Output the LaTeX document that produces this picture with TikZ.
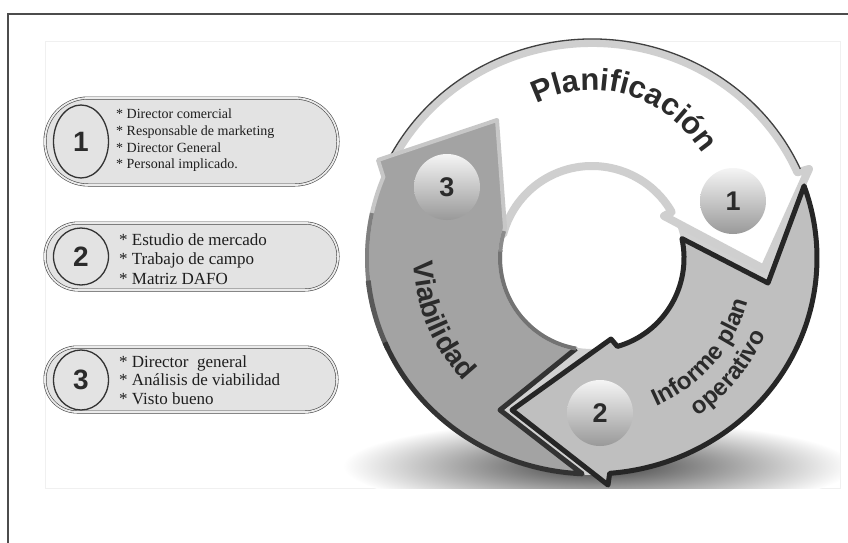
\documentclass[tikz,border=0pt]{standalone}
\usepackage{fontspec}
\setmainfont{Liberation Serif}
\newfontfamily\arialf{Liberation Sans}
\usetikzlibrary{shapes.geometric,decorations.text}
\definecolor{ink}{HTML}{2B2B2B}
\definecolor{textdark}{HTML}{1E1E1E}
\newcommand\numfnt{\arialf\bfseries\fontsize{28}{28}\selectfont}
\newcommand\ballfnt{\arialf\bfseries\fontsize{27}{27}\selectfont}
\newcommand\planfnt{\arialf\bfseries\fontsize{31}{31}\selectfont\color{ink}}
\newcommand\viafnt{\arialf\bfseries\fontsize{28}{28}\selectfont\color{ink}}
\newcommand\infofnt{\arialf\bfseries\fontsize{24}{24}\selectfont\color{ink}}
\tikzset{
  stadium/.style={draw=black!72, line width=0.6pt, double=black!8, double distance=1.8pt,
    fill=black!11, rectangle, inner sep=0pt},
  numcirc/.style={ellipse, draw=black!80, line width=1.3pt, inner sep=0pt,
    font=\numfnt, text=ink},
  itemlist/.style={anchor=west, align=left, inner sep=0pt, text=textdark},
  ball/.style={circle, minimum size=66pt, inner sep=0pt, top color=black!4,
    bottom color=black!40, font=\ballfnt, text=ink},
  ringtext/.style={decorate, decoration={text along path, text align=center,
    text format delimiters={|}{|}, text={#1}}}
}
\begin{document}
\begin{tikzpicture}[x=1pt,y=-1pt]
\useasboundingbox (0,0) rectangle (848,543);
\fill[white] (0,0) rectangle (848,543);
\draw[black!6, line width=0.8pt] (45,41) rectangle (840,488);
\draw[black!70, line width=1.4pt] (8,543) -- (8,14) -- (848,14);

% shadow under ring
\begin{scope}
  \clip (330,400) rectangle (840,488);
  \shade[inner color=black!75, outer color=white] (598,466) ellipse (255pt and 46pt);
\end{scope}

% ring
\begin{scope}[shift={(592,258)}]
  \fill[black!18, even odd rule] (0,0) ellipse (226pt and 217pt) (0,0) circle (91pt);
  % arrow 1 : Planificacion
  \path[fill=white, draw=black!19, line width=8pt, line join=round]
    (156:224pt and 215pt) arc[start angle=156, end angle=23.5, x radius=224pt, y radius=215pt]
    -- (217pt,89pt) -- (172pt,-11pt) -- (72pt,42pt) -- (30:92pt)
    arc[start angle=30, end angle=165, radius=92pt] -- cycle;
  \draw[black!75, line width=1.3pt] (156:228pt and 219pt)
    arc[start angle=156, end angle=24, x radius=228pt, y radius=219pt];
  % arrow 2 : Informe plan operativo
  \path[fill=black!25, draw=black!85, line width=5pt, line join=round]
    (19.5:225pt and 216pt) -- (176pt,-25pt) -- (12.2:92pt)
    arc[start angle=12.2, end angle=-74, radius=92pt]
    -- (19pt,-81pt) -- (-80pt,-152pt) -- (16pt,-227pt) -- (-85.5:225pt and 216pt)
    arc[start angle=-85.5, end angle=19.5, x radius=225pt, y radius=216pt] -- cycle;
  % arrow 3 : Viabilidad
  \path[fill=black!36, draw=black!22, line width=4pt, line join=round]
    (267.5:225pt and 216pt) -- (-92pt,-152pt) -- (260:92pt)
    arc[start angle=260, end angle=161, radius=92pt]
    -- (-95pt,138pt) -- (-214pt,98pt) -- (158:225pt and 216pt)
    arc[start angle=158, end angle=267.5, x radius=225pt, y radius=216pt] -- cycle;
  \draw[black!50, line width=4pt] (168:225pt and 216pt)
    arc[start angle=168, end angle=188, x radius=225pt, y radius=216pt];
  \draw[black!65, line width=5pt] (186:225pt and 216pt)
    arc[start angle=186, end angle=205, x radius=225pt, y radius=216pt];
  \draw[black!80, line width=5pt, line join=round] (203:225pt and 216pt)
    arc[start angle=203, end angle=267.5, x radius=225pt, y radius=216pt]
    -- (-92pt,-152pt) -- (260:92pt);
  \draw[black!55, line width=4pt] (260:92pt) arc[start angle=260, end angle=175, radius=92pt];
  \draw[black!45, line width=4pt] (176:92pt) arc[start angle=176, end angle=163, radius=92pt];

  % ring labels
  \path[ringtext={|\planfnt|Planificación}] (118:142pt and 168pt)
    arc[start angle=118, end angle=34, x radius=142pt, y radius=168pt];
  \path[ringtext={|\viafnt|Viabilidad}] (172:178pt)
    arc[start angle=172, end angle=233, radius=178pt];
  \path[ringtext={|\infofnt|Informe plan}] (-72:162pt)
    arc[start angle=-72, end angle=-10, radius=162pt];
  \path[ringtext={|\infofnt|operativo}] (-68:190pt)
    arc[start angle=-68, end angle=-12, radius=190pt];
\end{scope}

% balls
\node[ball] (n1) at (733,201) {1};
\node[ball] (n2) at (600,413) {2};
\node[ball] (n3) at (447,187) {3};

% left boxes
\node[stadium, minimum width=293pt, minimum height=87pt, rounded corners=43pt] (box1) at (191.5,141.5) {};
\node[numcirc, minimum width=55pt, minimum height=73pt] (c1) at (81,141.5) {1};
\node[itemlist, font=\fontsize{14}{16.7}\selectfont] (t1) at (116,140.5)
  {* Director comercial\\* Responsable de marketing\\* Director General\\* Personal implicado.};

\node[stadium, minimum width=293pt, minimum height=67pt, rounded corners=33pt] (box2) at (191.5,256.5) {};
\node[numcirc, minimum width=55pt, minimum height=57pt] (c2) at (81,256.5) {2};
\node[itemlist, font=\fontsize{17}{19.3}\selectfont] (t2) at (119,259)
  {* Estudio de mercado\\* Trabajo de campo\\* Matriz DAFO};

\node[stadium, minimum width=292pt, minimum height=65pt, rounded corners=32pt] (box3) at (191,379.5) {};
\node[numcirc, minimum width=55pt, minimum height=60pt] (c3) at (81,380) {3};
\node[itemlist, font=\fontsize{17}{18.3}\selectfont] (t3) at (119,380)
  {* Director~~general\\* Análisis de viabilidad\\* Visto bueno};
\end{tikzpicture}
\end{document}
